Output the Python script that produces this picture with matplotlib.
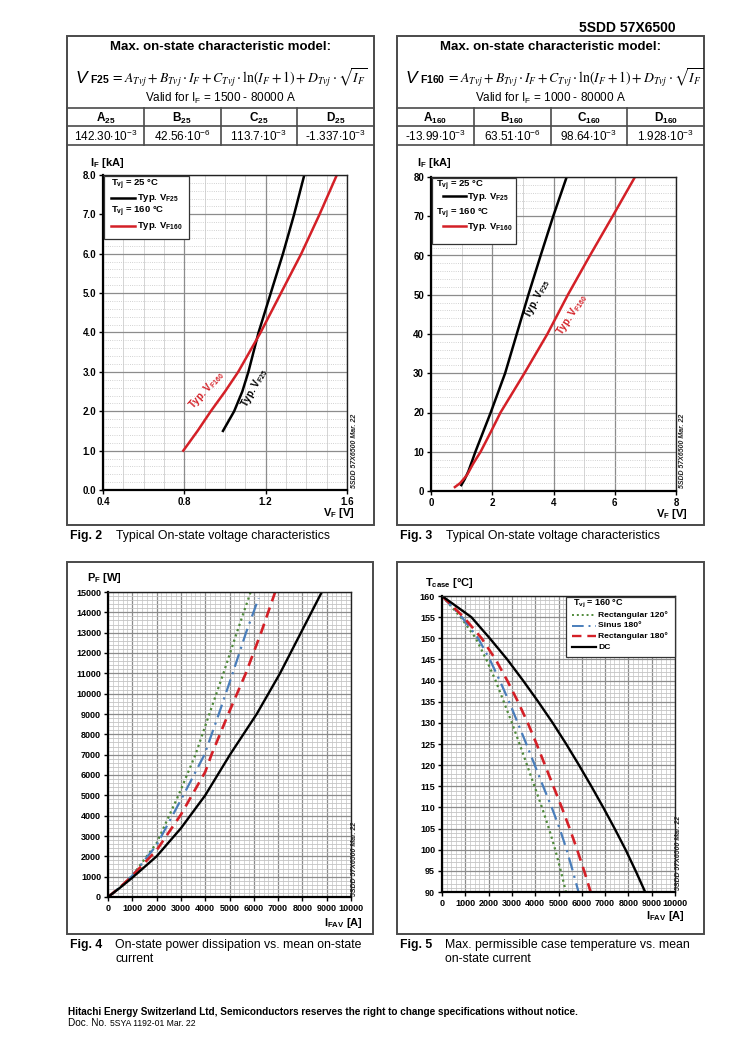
import matplotlib
matplotlib.use('Agg')
import matplotlib.pyplot as plt
from matplotlib.patches import Rectangle
from matplotlib.ticker import MultipleLocator, FormatStrFormatter
from matplotlib.lines import Line2D

plt.rcParams['font.family'] = ['Liberation Sans', 'DejaVu Sans']
plt.rcParams['mathtext.fontset'] = 'custom'
plt.rcParams['mathtext.rm'] = 'Liberation Sans'
plt.rcParams['mathtext.it'] = 'Liberation Sans:italic'
plt.rcParams['mathtext.bf'] = 'Liberation Sans:bold'

# ---------------- data ----------------
part_no = '5SDD 57X6500'
coef_names = ['A', 'B', 'C', 'D']
coef25_mant = ['142.30', '42.56', '113.7', '-1.337']
coef25_exp = ['-3', '-6', '-3', '-3']
coef160_mant = ['-13.99', '63.51', '98.64', '1.928']
coef160_exp = ['-3', '-6', '-3', '-3']

# Fig. 2 (VF in V, IF in kA)
f2_v25 = [0.99, 1.045, 1.085, 1.115, 1.14, 1.165, 1.225, 1.285, 1.34, 1.39]
f2_i25 = [1.5, 2.0, 2.5, 3.0, 3.5, 4.0, 5.0, 6.0, 7.0, 8.0]
f2_v160 = [0.795, 0.865, 0.93, 1.0, 1.065, 1.175, 1.275, 1.375, 1.465, 1.55]
f2_i160 = [1.0, 1.5, 2.0, 2.5, 3.0, 4.0, 5.0, 6.0, 7.0, 8.0]

# Fig. 3
f3_v25 = [0.99, 1.10, 1.22, 1.45, 1.70, 1.95, 2.42, 2.80, 3.18, 3.58, 3.99, 4.43]
f3_i25 = [1.5, 3, 5, 10, 15, 20, 30, 40, 50, 60, 70, 80]
f3_v160 = [0.78, 0.95, 1.17, 1.38, 1.62, 1.95, 2.27, 3.05, 3.80, 4.47, 5.19, 5.93, 6.66]
f3_i160 = [1, 2, 4, 7, 10, 15, 20, 30, 40, 50, 60, 70, 80]

# Fig. 4 (IFAV in A, PF in W)
f4_r120_i = [0, 500, 1000, 2000, 2900, 3600, 4170, 4750, 5300, 5870]
f4_r120_p = [0, 480, 1050, 2650, 5000, 7000, 9000, 11000, 13000, 15000]
f4_s180_i = [0, 500, 1000, 2000, 3100, 3970, 4560, 5130, 5680, 6200]
f4_s180_p = [0, 480, 1050, 2550, 5000, 7000, 9000, 11000, 13000, 14700]
f4_r180_i = [0, 500, 1000, 2000, 3000, 4000, 4260, 4950, 5670, 6300, 6880]
f4_r180_p = [0, 480, 1050, 2300, 4050, 6150, 7000, 9000, 11000, 13000, 15000]
f4_dc_i = [0, 500, 1000, 2000, 3000, 4000, 5020, 6120, 7080, 7940, 8800]
f4_dc_p = [0, 460, 950, 2000, 3380, 5000, 7000, 9000, 11000, 13000, 15000]

# Fig. 5 (IFAV in A, Tcase in degC)
f5_t = [160, 155, 150, 145, 140, 135, 130, 125, 120, 115, 110, 105, 100, 95, 90]
f5_r120_i = [0, 800, 1450, 1900, 2300, 2650, 3000, 3330, 3650, 3970, 4290, 4590, 4860, 5100, 5320]
f5_s180_i = [0, 850, 1550, 2050, 2480, 2880, 3250, 3620, 3980, 4340, 4710, 5050, 5350, 5610, 5860]
f5_r180_i = [0, 930, 1700, 2300, 2800, 3260, 3680, 4060, 4420, 4780, 5140, 5480, 5800, 6100, 6380]
f5_dc_i = [0, 1260, 2050, 2800, 3480, 4130, 4750, 5330, 5880, 6410, 6920, 7410, 7880, 8310, 8720]
f5_labels = ['Rectangular 120°', 'Sinus 180°', 'Rectangular 180°', 'DC']

# ---------------- layout ----------------
W, H = 750, 1061
fig = plt.figure(figsize=(W / 100, H / 100), dpi=100)
fig.patch.set_facecolor('white')


def rect(l, t, r, b):
    return [l / W, 1 - b / H, (r - l) / W, (b - t) / H]


lay = fig.add_axes([0, 0, 1, 1])
lay.set_xlim(0, W)
lay.set_ylim(H, 0)
lay.axis('off')

BOX = '#4a4a4a'
RED = '#d42027'
BLUE = '#4a7ebb'
GREEN = '#4f8a3a'

lay.text(676, 28, part_no, fontsize=10, fontweight='bold', ha='right', va='center')


def panel_box(l, t, r, b):
    lay.add_patch(Rectangle((l, t), r - l, b - t, fill=False, lw=1.4, ec=BOX))


def model_table(l, r, tsub, mant, exps, vrange):
    cx = (l + r) / 2
    lay.text(cx, 47, 'Max. on-state characteristic model:', fontsize=9.5,
             fontweight='bold', ha='center', va='center')
    t1 = lay.text(l + 8, 83, r'$\mathit{V}$', fontsize=12.5, ha='left', va='baseline')
    t1b = lay.annotate(r'$\mathbf{%s}$' % ('F' + tsub), xy=(1, 83), xycoords=(t1, 'data'),
                       xytext=(0.3, 0), textcoords='offset points', fontsize=7.5,
                       ha='left', va='baseline', style='italic')
    lay.annotate(r'$= A_{Tvj} + B_{Tvj}\cdot I_F + C_{Tvj}\cdot \mathrm{ln}(I_F + 1) + D_{Tvj}\cdot\sqrt{I_F}$',
                 xy=(1, 83), xycoords=(t1b, 'data'), xytext=(1.0, 0), textcoords='offset points',
                 fontsize=9.9, ha='left', va='baseline', math_fontfamily='stix')
    lay.text(cx, 98, r'Valid for I$_{\mathrm{F}}$ = %s A' % vrange, fontsize=8.5,
             ha='center', va='center')
    lay.plot([l, r], [108, 108], color=BOX, lw=1.2)
    lay.plot([l, r], [126, 126], color=BOX, lw=1.2)
    lay.plot([l, r], [145, 145], color=BOX, lw=1.2)
    cw = (r - l) / 4
    for k in range(1, 4):
        lay.plot([l + k * cw, l + k * cw], [108, 145], color=BOX, lw=1.2)
    for k in range(4):
        x = l + (k + 0.5) * cw
        lay.text(x, 118, r'$\mathbf{%s}_{\mathbf{%s}}$' % (coef_names[k], tsub), fontsize=8.5,
                 ha='center', va='center')
        lay.text(x, 136, r'%s$\cdot$10$^{%s}$' % (mant[k], exps[k]), fontsize=8.5,
                 ha='center', va='center')


panel_box(67, 36, 374, 525)
panel_box(397, 36, 704, 525)
panel_box(67, 562, 373, 934)
panel_box(397, 562, 704, 934)
model_table(67, 374, '25', coef25_mant, coef25_exp, '1500 - 80000')
model_table(397, 704, '160', coef160_mant, coef160_exp, '1000 - 80000')


def style(ax, xlim, ylim, xmaj, xmin, ymaj, ymin, xfmt, yfmt, minor_y_ls=':', minor_x_ls='-'):
    ax.set_xlim(*xlim)
    ax.set_ylim(*ylim)
    ax.xaxis.set_major_locator(MultipleLocator(xmaj))
    ax.xaxis.set_minor_locator(MultipleLocator(xmin))
    ax.yaxis.set_major_locator(MultipleLocator(ymaj))
    ax.yaxis.set_minor_locator(MultipleLocator(ymin))
    ax.xaxis.set_major_formatter(FormatStrFormatter(xfmt))
    ax.yaxis.set_major_formatter(FormatStrFormatter(yfmt))
    ax.grid(False)
    ax.xaxis.grid(True, which='major', color='#8c8c8c', lw=0.9)
    ax.yaxis.grid(True, which='major', color='#8c8c8c', lw=0.9)
    ax.xaxis.grid(True, which='minor', color='#cdcdcd', lw=0.6, ls=minor_x_ls)
    ax.yaxis.grid(True, which='minor', color='#c4c4c4', lw=0.6, ls=minor_y_ls)
    ax.set_axisbelow(True)
    for s in ['top', 'right']:
        ax.spines[s].set_color('#222222')
        ax.spines[s].set_linewidth(1.0)
    for s in ['left', 'bottom']:
        ax.spines[s].set_color('black')
        ax.spines[s].set_linewidth(1.6)
    ax.tick_params(which='major', direction='out', length=3, width=1, labelsize=7, pad=2)
    ax.tick_params(which='minor', length=0)
    for lab in ax.get_xticklabels() + ax.get_yticklabels():
        lab.set_fontweight('bold')


# ---- Fig. 2 ----
ax2 = fig.add_axes(rect(103, 175, 347, 490))
style(ax2, (0.4, 1.6), (0, 8), 0.4, 0.1, 1.0, 0.2, '%.1f', '%.1f')
ax2.plot(f2_v25, f2_i25, color='black', lw=1.8)
ax2.plot(f2_v160, f2_i160, color=RED, lw=1.8)

# ---- Fig. 3 ----
ax3 = fig.add_axes(rect(431, 177, 676, 491))
style(ax3, (0, 8), (0, 80), 2, 1, 10, 2, '%d', '%d')
ax3.plot(f3_v25, f3_i25, color='black', lw=1.8)
ax3.plot(f3_v160, f3_i160, color=RED, lw=1.8)

# ---- Fig. 4 ----
ax4 = fig.add_axes(rect(108, 592, 351, 897))
style(ax4, (0, 10000), (0, 15000), 1000, 200, 1000, 200, '%d', '%d', minor_y_ls='-')
ax4.plot(f4_r120_i, f4_r120_p, color=GREEN, lw=1.6, ls=(0, (1, 1.5)))
ax4.plot(f4_s180_i, f4_s180_p, color=BLUE, lw=1.6, ls=(0, (6, 2.5, 1, 2.5)))
ax4.plot(f4_r180_i, f4_r180_p, color=RED, lw=1.9, ls=(0, (4, 2.5)))
ax4.plot(f4_dc_i, f4_dc_p, color='black', lw=1.7)

# ---- Fig. 5 ----
ax5 = fig.add_axes(rect(442, 596, 675, 892))
style(ax5, (0, 10000), (90, 160), 1000, 200, 5, 1, '%d', '%d', minor_y_ls='-')
ax5.plot(f5_r120_i, f5_t, color=GREEN, lw=1.6, ls=(0, (1, 1.5)))
ax5.plot(f5_s180_i, f5_t, color=BLUE, lw=1.6, ls=(0, (6, 2.5, 1, 2.5)))
ax5.plot(f5_r180_i, f5_t, color=RED, lw=1.9, ls=(0, (4, 2.5)))
ax5.plot(f5_dc_i, f5_t, color='black', lw=1.7)

for a in (ax4, ax5):
    for lab in a.get_xticklabels() + a.get_yticklabels():
        lab.set_fontsize(6.5)

# ---------------- overlay (legends, labels) ----------------
top = fig.add_axes([0, 0, 1, 1], zorder=10)
top.set_xlim(0, W)
top.set_ylim(H, 0)
top.axis('off')
top.patch.set_alpha(0)

LF = 6.8


def leg_box(l, t, r, b):
    top.add_patch(Rectangle((l, t), r - l, b - t, fc='white', ec='#333333', lw=0.9))


# Fig 2 legend
leg_box(103.5, 175.5, 189, 239)
top.text(111, 185, r'T$_{\mathbf{vj}}$ = 25 °C', fontsize=LF, fontweight='bold', va='center')
top.plot([111, 135], [198, 198], color='black', lw=1.8)
top.text(137, 198, r'Typ. V$_{\mathbf{F25}}$', fontsize=LF, fontweight='bold', va='center')
top.text(111, 212, r'T$_{\mathbf{vj}}$ = 160 °C', fontsize=LF, fontweight='bold', va='center')
top.plot([111, 135], [226, 226], color=RED, lw=1.8)
top.text(137, 226, r'Typ. V$_{\mathbf{F160}}$', fontsize=LF, fontweight='bold', va='center')

# Fig 3 legend
leg_box(431.5, 177.5, 516, 244)
top.text(436, 186, r'T$_{\mathbf{vj}}$ = 25 °C', fontsize=LF, fontweight='bold', va='center')
top.plot([443, 466], [196, 196], color='black', lw=1.8)
top.text(467, 197, r'Typ. V$_{\mathbf{F25}}$', fontsize=LF, fontweight='bold', va='center')
top.text(436, 214, r'T$_{\mathbf{vj}}$ = 160 °C', fontsize=LF, fontweight='bold', va='center')
top.plot([443, 466], [226, 226], color=RED, lw=1.8)
top.text(467, 227, r'Typ. V$_{\mathbf{F160}}$', fontsize=LF, fontweight='bold', va='center')

# Fig 5 legend
leg_box(566, 597, 674.5, 657)
top.text(573, 604, r'T$_{\mathbf{vj}}$ = 160 °C', fontsize=6.5, fontweight='bold', va='center')
f5_styles = [(GREEN, (0, (1, 1.5)), 1.4), (BLUE, (0, (6, 2.5, 1, 2.5)), 1.4),
             (RED, (0, (4, 2.5)), 1.7), ('black', '-', 1.6)]
for k, (lab, (c, ls, lw)) in enumerate(zip(f5_labels, f5_styles)):
    y = 615 + k * 10.7
    top.add_line(Line2D([572, 596], [y, y], color=c, ls=ls, lw=lw))
    top.text(598, y, lab, fontsize=6.1, fontweight='bold', va='center')

# curve labels
top.text(206, 390, r'Typ. V$_{\mathbf{F160}}$', fontsize=7, fontweight='bold', color=RED,
         rotation=48, ha='center', va='center', rotation_mode='anchor')
top.text(254, 388, r'Typ. V$_{\mathbf{F25}}$', fontsize=7, fontweight='bold', color='black',
         rotation=61, ha='center', va='center', rotation_mode='anchor')
top.text(537, 299, r'Typ. V$_{\mathbf{F25}}$', fontsize=7, fontweight='bold', color='black',
         rotation=62, ha='center', va='center', rotation_mode='anchor')
top.text(572, 315, r'Typ. V$_{\mathbf{F160}}$', fontsize=7, fontweight='bold', color=RED,
         rotation=57, ha='center', va='center', rotation_mode='anchor')

# axis labels
AL = 8
top.text(90, 163, r'I$_{\mathbf{F}}$ [kA]', fontsize=AL, fontweight='bold', va='center')
top.text(355, 513, r'V$_{\mathbf{F}}$ [V]', fontsize=AL, fontweight='bold', va='center', ha='right')
top.text(417, 163, r'I$_{\mathbf{F}}$ [kA]', fontsize=AL, fontweight='bold', va='center')
top.text(688, 514, r'V$_{\mathbf{F}}$ [V]', fontsize=AL, fontweight='bold', va='center', ha='right')
top.text(87, 578, r'P$_{\mathbf{F}}$ [W]', fontsize=AL, fontweight='bold', va='center')
top.text(363, 923, r'I$_{\mathbf{FAV}}$ [A]', fontsize=AL, fontweight='bold', va='center', ha='right')
top.text(425, 583, r'T$_{\mathbf{case}}$ [°C]', fontsize=AL, fontweight='bold', va='center')
top.text(685, 916, r'I$_{\mathbf{FAV}}$ [A]', fontsize=AL, fontweight='bold', va='center', ha='right')

# watermarks
for (x, yb) in [(354, 488), (683, 488), (355, 896), (678, 890)]:
    top.text(x, yb, part_no + ' Mar. 22', rotation=90, fontsize=5, style='italic',
             fontweight='bold', ha='center', va='bottom', color='#222222')

# captions
CF = 8.8
caps = [(70, 116, 536, 'Fig. 2', ['Typical On-state voltage characteristics']),
        (400, 446, 536, 'Fig. 3', ['Typical On-state voltage characteristics']),
        (70, 115, 945, 'Fig. 4', ['On-state power dissipation vs. mean on-state', 'current']),
        (400, 445, 945, 'Fig. 5', ['Max. permissible case temperature vs. mean', 'on-state current'])]
for (xf, xt, y, fl, lines) in caps:
    top.text(xf, y, fl, fontsize=CF, fontweight='bold', va='center')
    for j, ln in enumerate(lines):
        top.text(xt, y + j * 14.5, ln, fontsize=CF, va='center')

# footer
top.text(68, 1012, 'Hitachi Energy Switzerland Ltd, Semiconductors reserves the right to change specifications without notice.',
         fontsize=7.2, fontweight='bold', va='center')
t_doc = top.text(68, 1023, 'Doc. No. ', fontsize=7.2, va='center')
top.annotate('5SYA 1192-01 Mar. 22', xy=(1, 1023), xycoords=(t_doc, 'data'), fontsize=6.2,
             va='center', ha='left')

fig.savefig('out.png', dpi=100, facecolor='white')
